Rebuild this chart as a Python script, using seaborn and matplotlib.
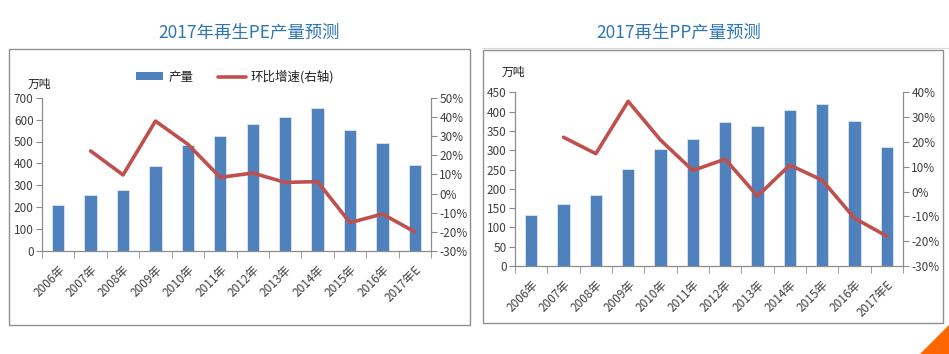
import numpy as np
import pandas as pd
import matplotlib
matplotlib.use("Agg")
import matplotlib.pyplot as plt
import seaborn as sns
from matplotlib.patches import Rectangle, Polygon
from matplotlib.lines import Line2D
from matplotlib.ticker import FuncFormatter, MultipleLocator, FixedLocator

years = ["2006年", "2007年", "2008年", "2009年", "2010年", "2011年",
         "2012年", "2013年", "2014年", "2015年", "2016年", "2017年E"]

pe_output = [210, 257, 278, 388, 484, 523, 581, 612, 651, 551, 493, 393]
pe_growth = [np.nan, 22.2, 9.7, 37.8, 25.7, 8.4, 10.7, 5.8, 6.2, -15.2, -10.7, -20.0]

pp_output = [133, 160, 185, 252, 304, 329, 372, 364, 404, 421, 376, 309]
pp_growth = [np.nan, 21.9, 15.3, 36.4, 20.8, 8.5, 13.1, -1.8, 10.7, 4.6, -10.7, -18.0]

pe_title = "2017年再生PE产量预测"
pp_title = "2017再生PP产量预测"
unit_label = "万吨"
legend_bar = "产量"
legend_line = "环比增速(右轴)"

BAR = "#4F81BD"
LINE = "#C0504D"
TXT = "#404040"
AXC = "#8C8C8C"
TITLE_C = "#2E75B6"

sns.set_style("white")
plt.rcParams["font.family"] = ["Noto Sans CJK SC", "DejaVu Sans"]

W, H = 949, 354
fig = plt.figure(figsize=(W / 100, H / 100), dpi=100)


def px_axes(x0, x1, ytop, ybot):
    return fig.add_axes([x0 / W, 1 - ybot / H, (x1 - x0) / W, (ybot - ytop) / H])


def draw_panel(ax, output, growth, ymax, ystep, gmin, gmax):
    df = pd.DataFrame({"year": years, "output": output, "growth": growth,
                       "pos": np.arange(len(years))})
    sns.barplot(data=df, x="year", y="output", color=BAR, saturation=1,
                width=0.38, edgecolor="#DCE6F2", linewidth=0.6, ax=ax, zorder=2)
    ax.set_xlim(-0.5, len(years) - 0.5)
    ax.set_ylim(0, ymax)
    ax.yaxis.set_major_locator(MultipleLocator(ystep))
    ax.set_xlabel("")
    ax.set_ylabel("")
    for s in ["top", "right"]:
        ax.spines[s].set_visible(False)
    for s in ["left", "bottom"]:
        ax.spines[s].set_color(AXC)
        ax.spines[s].set_linewidth(0.9)
    ax.tick_params(axis="y", direction="out", length=4, color=AXC,
                   labelsize=8.5, labelcolor=TXT, pad=2, left=True)
    ax.set_xticks(np.arange(len(years)))
    ax.set_xticklabels(years, rotation=45, ha="right", rotation_mode="anchor",
                       fontsize=8.5, color=TXT)
    ax.tick_params(axis="x", which="major", length=0, pad=9)
    ax.xaxis.set_minor_locator(FixedLocator(np.arange(-0.5, len(years), 1.0)))
    ax.tick_params(axis="x", which="minor", length=5, color=AXC, bottom=True)

    ax2 = ax.twinx()
    gd = df.dropna(subset=["growth"])
    sns.lineplot(data=gd, x="pos", y="growth", color=LINE, linewidth=2.6,
                 ax=ax2, zorder=3)
    ax2.set_ylim(gmin, gmax)
    ax2.set_xlim(-0.5, len(years) - 0.5)
    ax2.yaxis.set_major_locator(MultipleLocator(10))
    ax2.yaxis.set_major_formatter(FuncFormatter(lambda v, p: f"{v:.0f}%"))
    ax2.set_xlabel("")
    ax2.set_ylabel("")
    for s in ["top", "left", "bottom"]:
        ax2.spines[s].set_visible(False)
    ax2.spines["right"].set_color(AXC)
    ax2.spines["right"].set_linewidth(0.9)
    ax2.tick_params(axis="y", direction="out", length=4, color=AXC,
                    labelsize=8.5, labelcolor=TXT, pad=2, right=True)
    ax2.grid(False)
    ax.grid(False)
    return ax2


# Panel frames
fig.patches.append(Rectangle((9 / W, 1 - 325 / H), (470 - 9) / W, (325 - 49) / H,
                             transform=fig.transFigure, fill=False,
                             edgecolor="#8F8F8F", linewidth=1.0))
fig.patches.append(Rectangle((483 / W, 1 - 323 / H), (943 - 483) / W, (323 - 50) / H,
                             transform=fig.transFigure, fill=False,
                             edgecolor="#8F8F8F", linewidth=1.0))
fig.lines.append(Line2D([482 / W, 949 / W], [1 - 48 / H, 1 - 48 / H],
                        transform=fig.transFigure, color="#D9D9D9", linewidth=0.8))
fig.patches.append(Polygon([(920 / W, 0), (949 / W, 0), (949 / W, 1 - 325 / H)],
                           closed=True, transform=fig.transFigure,
                           facecolor="#FF6600", edgecolor="none"))

# Left: PE
axL = px_axes(42, 431, 97.7, 251)
draw_panel(axL, pe_output, pe_growth, 700, 100, -30, 50)
fig.text(249 / W, 1 - 33 / H, pe_title, ha="center", va="center",
         fontsize=12.5, color=TITLE_C)
fig.text(28 / W, 1 - 84 / H, unit_label, ha="left", va="center",
         fontsize=8.5, color="#202020")
handles = [Rectangle((0, 0), 1, 1, facecolor=BAR, edgecolor="none"),
           Line2D([0], [0], color=LINE, linewidth=2.6)]
fig.legend(handles, [legend_bar, legend_line], loc="center",
           bbox_to_anchor=(235 / W, 1 - 77 / H), ncol=2, frameon=False,
           fontsize=9, handlelength=2.2, handleheight=0.6, columnspacing=2.0,
           handletextpad=0.4, labelcolor="#202020")

# Right: PP
axR = px_axes(515, 903, 92.4, 266)
draw_panel(axR, pp_output, pp_growth, 450, 50, -30, 40)
fig.text(679 / W, 1 - 33 / H, pp_title, ha="center", va="center",
         fontsize=12.5, color=TITLE_C)
fig.text(502 / W, 1 - 72 / H, unit_label, ha="left", va="center",
         fontsize=8.5, color="#202020")

fig.savefig("out.png", dpi=100, facecolor="white")
